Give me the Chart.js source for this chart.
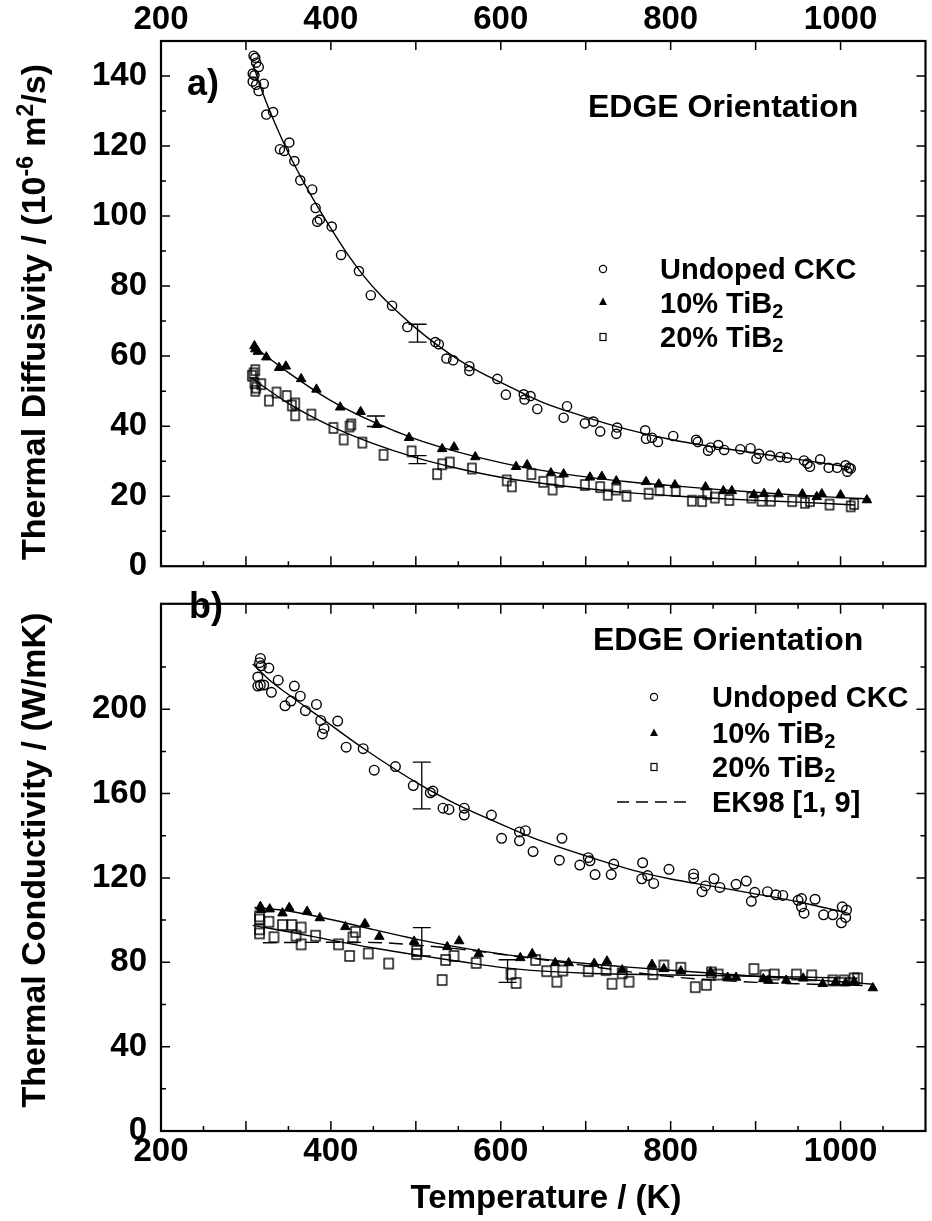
<!DOCTYPE html>
<html>
<head>
<meta charset="utf-8">
<script src="https://cdn.jsdelivr.net/npm/chart.js@4.4.1/dist/chart.umd.min.js"></script>
<style>
html,body{margin:0;padding:0;background:#fff;}
#wrap{position:relative;width:932px;height:1221px;overflow:hidden;background:#fff;}
canvas{position:absolute;left:0;}
#ca{top:0;}
#cb{top:570px;}
</style>
</head>
<body>
<div id="wrap">
<canvas id="ca" width="932" height="600"></canvas>
<canvas id="cb" width="932" height="651"></canvas>
</div>
<script>
// ---------------- DATA ----------------
// Temperature axis
const xTickValues = [200, 400, 600, 800, 1000];
const aYTickValues = [0, 20, 40, 60, 80, 100, 120, 140];
const bYTickValues = [0, 40, 80, 120, 160, 200];

// Panel a) thermal diffusivity (1e-6 m2/s)
const aUndopedT = [309,311,312,315,308,310,308,312,321,315,324,332,340,345,351,357,364,378,382,384,387,401,412,433,447,472,490,523,527,536,544,563,563,596,606,627,635,628,643,678,674,699,709,717,737,736,770,771,778,785,803,830,832,844,847,856,863,882,894,901,904,917,929,937,957,961,964,976,986,996,1006,1010,1008,1012];
const aUndopedV = [145.8,145.2,143.8,142.6,140.7,140.2,138.4,137.5,137.8,135.7,129,129.7,119.1,118.6,121,115.7,110.2,107.6,102.3,98.4,99,97,88.9,84.3,77.4,74.4,68.3,64,63.4,59.3,58.8,57.1,55.8,53.5,49,49.1,48.6,47.6,44.9,45.7,42.4,40.8,41.3,38.5,39.6,37.8,38.8,36.4,36.7,35.5,37.2,36.1,35.5,33,33.9,34.6,33.2,33.4,33.7,30.7,32.1,31.6,31.2,31,30.2,29.3,28.4,30.5,28.1,28.1,28.8,28.1,27,27.9];
const aTi10T = [310,311,314,324,339,347,365,383,411,435,454,492,531,545,570,618,631,659,674,705,719,736,771,786,805,841,862,872,898,910,927,955,972,978,1000,1031];
const aTi10V = [62.9,62,61.3,59.7,56.7,57.1,53.5,50.5,45.4,44.1,40.4,36.7,33.5,34,31.2,28.4,28.9,26.6,26.3,25.4,25.6,24.3,24.1,23.4,23.2,22.6,21.5,21.5,20.4,20.7,20.6,20.6,19.8,20.6,20.3,18.9];
const aTi20T = [309,311,307,310,312,311,318,327,336,348,354,358,358,377,403,415,422,424,437,462,495,525,531,540,566,607,613,636,650,661,669,699,717,726,736,748,774,787,806,825,837,843,852,869,895,907,918,943,958,964,987,1012,1016];
const aTi20V = [55.1,56,54.4,52.3,51,50.1,52,47.3,49.6,48.6,45.9,46.5,43.1,43.3,39.5,36.2,39.9,40.5,35.3,31.8,32.8,26.3,29.1,29.6,27.9,24.5,22.8,26.3,24.1,21.9,24.1,23.2,22.6,20.4,21.9,20.1,20.7,21.7,21.5,18.7,18.6,20.6,19.6,18.9,19.6,18.7,18.7,18.6,18.1,18.6,17.6,17.1,17.8];

// fitted curves
const aUndopedFitT = [308,320,335,350,365,380,400,420,440,460,480,500,525,550,575,600,650,700,750,800,850,900,950,1010];
const aUndopedFitV = [143.5,135,126,118,111,104.5,96.5,89,82.5,77,72.3,68,63.2,59,55.5,52.5,46.7,42.6,39,36.2,34.1,32.3,30.5,28.3];
const aTi10FitT = [308,350,400,450,500,550,600,650,700,750,800,850,900,950,1000,1035];
const aTi10FitV = [63,55.3,47.3,41.2,36.3,32.6,29.6,27.3,25.5,24.1,23,22,21.1,20.3,19.6,19.2];
const aTi20FitT = [306,350,400,450,500,550,600,650,700,750,800,850,900,950,1017];
const aTi20FitV = [53.8,46.5,40,35,31,27.9,25.4,23.6,22.2,21,20.1,19.4,18.8,18.3,17.5];

// error bars panel a
const aErrT = [502, 453, 502];
const aErrLo = [64, 39.9, 29.3];
const aErrHi = [69.1, 42.9, 31.6];

// Panel b) thermal conductivity (W/mK)
const bUndopedT = [317,316,318,327,314,317,314,321,330,338,346,353,357,364,370,383,388,392,390,408,418,438,451,476,497,517,520,532,539,557,557,589,601,622,629,622,672,638,669,693,703,705,711,730,733,767,766,773,780,798,827,827,837,841,851,858,877,889,895,899,914,924,932,950,954,957,954,970,980,991,1001,1002,1007,1006];
const bUndopedV = [224.1,222.1,220.6,219.5,215.3,211.5,211,211.5,208,213.8,201.6,203.9,211,206.2,199.3,202.3,194.7,190.9,188.3,194.4,182,181.3,171.1,172.8,163.8,160.4,161.2,153.1,152.5,153.1,149.8,149.8,138.8,141.8,142.4,137.6,138.8,132.5,128.4,126.1,129.6,128.1,121.6,121.6,126.6,127.2,119.6,121.1,117.4,124.1,121.9,120,113.5,116.2,119.6,115.5,117,118.5,108.9,113.2,113.5,112,111.7,109.4,110.2,103.3,106.3,109.9,102.5,102.5,98.7,106.3,104.8,101.3];
const bTi10T = [317,318,328,343,351,372,387,417,440,457,498,537,551,574,623,637,664,680,710,725,743,778,792,812,847,867,877,909,915,936,956,979,994,1006,1016,1038];
const bTi10V = [106.4,104.9,105.2,103.3,105.9,104.1,101,96.8,98.3,92.2,89.9,87.3,90.1,84,82.1,84,79.7,79.7,79.4,80.5,76.3,78.9,76.9,75.8,75.4,72.8,72.8,72.1,71.4,71.4,72.4,69.8,70.5,70.2,70.8,67.8];
const bTi20T = [316,316,316,316,327,333,343,354,365,359,365,382,409,422,426,429,444,468,501,501,531,535,545,571,612,618,641,654,666,673,703,724,731,743,751,779,792,812,829,842,848,856,898,911,922,948,966,991,1004,1016,1020];
const bTi20V = [101.8,100.3,95.7,93.7,99.2,91.9,97.7,97.7,96.5,92.6,88.5,92.6,88.5,83,91.8,94.4,84.2,79.4,85.4,83.9,71.6,81.1,83,79.7,74.4,70.2,81.1,75.8,70.8,76.1,75.8,76.3,69.8,74.8,70.8,74.4,78.5,77.4,68.2,69.3,75.2,74.2,76.8,73.8,74.2,74.2,73.8,71.4,71.4,72.4,72.4];

const bUndopedFitT = [308,330,350,388,438,508,550,600,638,700,762,800,850,896,950,1007];
const bUndopedFitV = [221.5,213,207,196,181.5,163.5,154.5,145.5,139,130.5,123,119.5,116,112.7,108.7,103.5];
const bTi10FitT = [310,350,400,450,500,550,600,650,700,750,800,850,900,950,1000,1038];
const bTi10FitV = [106,104.3,100.3,95.5,91,87.2,84,81.5,79.4,77.7,76.2,74.8,73.4,72.1,70.8,69.6];
const bTi20FitT = [308,350,400,450,500,550,600,650,700,750,800,850,900,950,1020];
const bTi20FitV = [97.5,94.5,90.5,86.8,83.5,80.5,77.6,75.8,74.8,74.3,74,73.7,73.4,73,72.4];
const bEK98T = [320,360,400,460,500,540,600,650,700,750,800,850,900,950,1027];
const bEK98V = [89.3,89.4,89.5,89.3,88.2,86.8,83.8,81.2,78.4,75.6,73.2,71.6,70.5,69.8,69];

const bErrT = [507, 507, 608];
const bErrLo = [152.8, 83, 70.5];
const bErrHi = [174.9, 96.4, 81.2];

const legendNames = ['Undoped CKC', '10% TiB', '20% TiB', 'EK98 [1, 9]'];
const panelTitle = 'EDGE Orientation';

// ---------------- HELPERS ----------------
const FAM = "'Liberation Sans', Arial, Helvetica, sans-serif";
Chart.defaults.font.family = FAM;
Chart.defaults.color = '#000';
const bold = s => `bold ${s}px ${FAM}`;

function pts(T, V) { return T.map((t, i) => ({x: t, y: V[i]})); }

function rectMarker(w, h) {
  const c = document.createElement('canvas');
  c.width = w + 4; c.height = h + 4;
  const g = c.getContext('2d');
  g.strokeStyle = '#000'; g.lineWidth = 1.4;
  g.strokeRect(2, 2, w, h);
  return c;
}
const sqA = rectMarker(8, 10);
const sqB = rectMarker(9, 10);

function circleDs(T, V, r) {
  return {data: pts(T, V), pointStyle: 'circle', pointRadius: r, pointBorderWidth: 1.4,
    pointBorderColor: '#000', pointBackgroundColor: 'rgba(0,0,0,0)', showLine: false};
}
function triDs(T, V, r) {
  return {data: pts(T, V), pointStyle: 'triangle', pointRadius: r, pointBorderWidth: 1,
    pointBorderColor: '#000', pointBackgroundColor: '#000', showLine: false};
}
function sqDs(T, V, img) {
  return {data: pts(T, V), pointStyle: img, pointRadius: 5, showLine: false};
}
function fitDs(T, V, dash) {
  return {data: pts(T, V), showLine: true, pointRadius: 0, borderColor: '#000', borderWidth: 1.4,
    borderDash: dash || [], cubicInterpolationMode: 'monotone', fill: false};
}

function rich(ctx, parts, x, y, align) {
  let total = 0;
  parts.forEach(p => { ctx.font = bold(p[1]); p.w = ctx.measureText(p[0]).width; total += p.w; });
  let cx = align === 'center' ? x - total / 2 : x;
  ctx.textAlign = 'left'; ctx.textBaseline = 'alphabetic';
  parts.forEach(p => { ctx.font = bold(p[1]); ctx.fillText(p[0], cx, y + (p[2] || 0)); cx += p.w; });
}

function marker(ctx, kind, x, y) {
  ctx.save();
  ctx.strokeStyle = '#000'; ctx.fillStyle = '#000'; ctx.lineWidth = 1.2;
  ctx.beginPath();
  if (kind === 'circle') { ctx.arc(x, y, 3.6, 0, Math.PI * 2); ctx.stroke(); }
  else if (kind === 'tri') { ctx.moveTo(x, y - 4.5); ctx.lineTo(x + 4, y + 3); ctx.lineTo(x - 4, y + 3); ctx.closePath(); ctx.fill(); }
  else if (kind === 'sq') { ctx.strokeRect(x - 3, y - 3.5, 6, 7); }
  else if (kind === 'dash') { ctx.lineWidth = 1.5; ctx.setLineDash([12, 7]); ctx.moveTo(x - 36, y); ctx.lineTo(x + 36, y); ctx.stroke(); }
  ctx.restore();
}

function drawFrame(chart, yTicks, topTicks, botTicks) {
  const {ctx, chartArea: ca} = chart;
  const xs = chart.scales.x, ys = chart.scales.y;
  ctx.save();
  ctx.strokeStyle = '#000';
  ctx.lineWidth = 1.5;
  ctx.beginPath();
  yTicks.forEach(([v, len]) => {
    const p = ys.getPixelForValue(v);
    ctx.moveTo(ca.left, p); ctx.lineTo(ca.left + len, p);
    ctx.moveTo(ca.right, p); ctx.lineTo(ca.right - len, p);
  });
  topTicks.forEach(([v, len]) => { const p = xs.getPixelForValue(v); ctx.moveTo(p, ca.top); ctx.lineTo(p, ca.top + len); });
  botTicks.forEach(([v, len]) => { const p = xs.getPixelForValue(v); ctx.moveTo(p, ca.bottom); ctx.lineTo(p, ca.bottom - len); });
  ctx.stroke();
  ctx.lineWidth = 2.2;
  ctx.strokeRect(ca.left, ca.top, ca.right - ca.left, ca.bottom - ca.top);
  ctx.restore();
}

function drawErr(chart, T, lo, hi, w) {
  const ctx = chart.ctx, xs = chart.scales.x, ys = chart.scales.y;
  ctx.save(); ctx.strokeStyle = '#000'; ctx.lineWidth = 1.3; ctx.beginPath();
  T.forEach((t, i) => {
    const px = xs.getPixelForValue(t), pl = ys.getPixelForValue(lo[i]), ph = ys.getPixelForValue(hi[i]);
    ctx.moveTo(px, pl); ctx.lineTo(px, ph);
    ctx.moveTo(px - w, pl); ctx.lineTo(px + w, pl);
    ctx.moveTo(px - w, ph); ctx.lineTo(px + w, ph);
  });
  ctx.stroke(); ctx.restore();
}

// decoration tick lists (axis ornaments only)
const midTicks = []; for (let v = 250; v <= 1050; v += 50) midTicks.push([v, v % 100 === 0 ? 10 : 5]);
const topTicksA = []; for (let v = 300; v <= 1000; v += 100) topTicksA.push([v, 9]);
const yTicksA = []; for (let v = 10; v <= 140; v += 10) yTicksA.push([v, v % 20 === 0 ? 9 : 5]);
const yTicksB = []; for (let v = 20; v <= 220; v += 20) yTicksB.push([v, v % 40 === 0 ? 9 : 5]);

const tickFont = {size: 33, weight: 'bold', family: FAM};

// ---------------- PANEL A ----------------
const decoA = {
  id: 'decoA',
  afterDraw(chart) {
    const ctx = chart.ctx;
    drawErr(chart, aErrT, aErrLo, aErrHi, 9);
    drawFrame(chart, yTicksA, topTicksA, midTicks);
    ctx.save(); ctx.fillStyle = '#000';
    ctx.font = bold(36); ctx.textAlign = 'left'; ctx.textBaseline = 'alphabetic';
    ctx.fillText('a)', 187, 95);
    ctx.font = bold(32); ctx.fillText(panelTitle, 588, 117);
    marker(ctx, 'circle', 603, 269);
    marker(ctx, 'tri', 603, 302);
    marker(ctx, 'sq', 603, 337);
    rich(ctx, [[legendNames[0], 29]], 660, 279);
    rich(ctx, [[legendNames[1], 29], ['2', 20, 5]], 660, 313);
    rich(ctx, [[legendNames[2], 29], ['2', 20, 5]], 660, 347);
    ctx.translate(45, 312); ctx.rotate(-Math.PI / 2);
    rich(ctx, [['Thermal Diffusivity / (10', 34], ['-6', 23, -12], [' m', 34], ['2', 23, -12], ['/s)', 34]], 0, 0, 'center');
    ctx.restore();
  }
};

new Chart(document.getElementById('ca'), {
  type: 'scatter',
  data: {datasets: [
    fitDs(aUndopedFitT, aUndopedFitV),
    fitDs(aTi10FitT, aTi10FitV),
    fitDs(aTi20FitT, aTi20FitV),
    circleDs(aUndopedT, aUndopedV, 4.6),
    triDs(aTi10T, aTi10V, 5.5),
    sqDs(aTi20T, aTi20V, sqA)
  ]},
  options: {
    responsive: false, animation: false, devicePixelRatio: 1,
    layout: {padding: {left: 0, right: 1, top: 0, bottom: 16}},
    plugins: {legend: {display: false}, tooltip: {enabled: false}},
    scales: {
      x: {type: 'linear', position: 'top', min: 200, max: 1100,
        grid: {display: false, drawTicks: false}, border: {display: false},
        afterBuildTicks: s => { s.ticks = xTickValues.map(v => ({value: v})); },
        ticks: {font: tickFont, color: '#000', padding: 1, maxRotation: 0, autoSkip: false, callback: v => String(v)},
        afterFit: s => { s.height = 41; }},
      y: {type: 'linear', position: 'left', min: 0, max: 150,
        grid: {display: false, drawTicks: false}, border: {display: false},
        afterBuildTicks: s => { s.ticks = aYTickValues.map(v => ({value: v})); },
        ticks: {font: tickFont, color: '#000', padding: 14, autoSkip: false, callback: v => String(v)},
        afterFit: s => { s.width = 161; }}
    }
  },
  plugins: [decoA]
});

// ---------------- PANEL B ----------------
const OFF = 570;
const decoB = {
  id: 'decoB',
  afterDraw(chart) {
    const ctx = chart.ctx;
    drawErr(chart, bErrT, bErrLo, bErrHi, 9);
    drawFrame(chart, yTicksB, midTicks, midTicks);
    ctx.save(); ctx.fillStyle = '#000';
    ctx.font = bold(36); ctx.textAlign = 'left'; ctx.textBaseline = 'alphabetic';
    ctx.fillText('b)', 189, 618 - OFF);
    ctx.font = bold(32); ctx.fillText(panelTitle, 593, 650 - OFF);
    marker(ctx, 'circle', 654, 697 - OFF);
    marker(ctx, 'tri', 654, 733 - OFF);
    marker(ctx, 'sq', 654, 767 - OFF);
    marker(ctx, 'dash', 653, 802 - OFF);
    rich(ctx, [[legendNames[0], 29]], 712, 707 - OFF);
    rich(ctx, [[legendNames[1], 29], ['2', 20, 5]], 712, 743 - OFF);
    rich(ctx, [[legendNames[2], 29], ['2', 20, 5]], 712, 777 - OFF);
    rich(ctx, [[legendNames[3], 29]], 712, 812 - OFF);
    rich(ctx, [['Temperature / (K)', 33]], 546, 1208 - OFF, 'center');
    ctx.translate(45, 860 - OFF); ctx.rotate(-Math.PI / 2);
    rich(ctx, [['Thermal Conductivity / (W/mK)', 34]], 0, 0, 'center');
    ctx.restore();
  }
};

new Chart(document.getElementById('cb'), {
  type: 'scatter',
  data: {datasets: [
    fitDs(bUndopedFitT, bUndopedFitV),
    fitDs(bTi10FitT, bTi10FitV),
    fitDs(bTi20FitT, bTi20FitV),
    fitDs(bEK98T, bEK98V, [14, 7]),
    circleDs(bUndopedT, bUndopedV, 4.8),
    triDs(bTi10T, bTi10V, 5.5),
    sqDs(bTi20T, bTi20V, sqB)
  ]},
  options: {
    responsive: false, animation: false, devicePixelRatio: 1,
    layout: {padding: {left: 0, right: 1, top: 14, bottom: 0}},
    plugins: {legend: {display: false}, tooltip: {enabled: false}},
    scales: {
      x: {type: 'linear', position: 'bottom', min: 200, max: 1100,
        grid: {display: false, drawTicks: false}, border: {display: false},
        afterBuildTicks: s => { s.ticks = xTickValues.map(v => ({value: v})); },
        ticks: {font: tickFont, color: '#000', padding: 1, maxRotation: 0, autoSkip: false, callback: v => String(v)},
        afterFit: s => { s.height = 90; }},
      y: {type: 'linear', position: 'left', min: 0, max: 250,
        grid: {display: false, drawTicks: false}, border: {display: false},
        afterBuildTicks: s => { s.ticks = bYTickValues.map(v => ({value: v})); },
        ticks: {font: tickFont, color: '#000', padding: 14, autoSkip: false, callback: v => String(v)},
        afterFit: s => { s.width = 161; }}
    }
  },
  plugins: [decoB]
});
</script>
</body>
</html>
